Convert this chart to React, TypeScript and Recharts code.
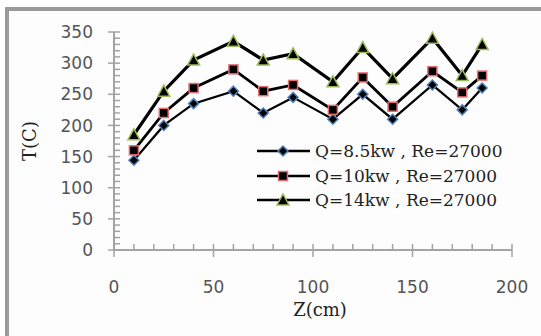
import React from "react";
import { LineChart, Line, XAxis, YAxis, Legend, Label } from "recharts";

// Z position (cm) of each measuring point
const zPositions = [10, 25, 40, 60, 75, 90, 110, 125, 140, 160, 175, 185];
// wall temperature T (C) per heat input
const temps85 = [144, 200, 235, 255, 220, 245, 210, 250, 210, 265, 225, 260];
const temps10 = [160, 220, 260, 290, 255, 265, 225, 277, 230, 287, 253, 280];
const temps14 = [185, 255, 305, 335, 305, 315, 270, 325, 275, 340, 280, 330];
const seriesNames = ["Q=8.5kw , Re=27000", "Q=10kw , Re=27000", "Q=14kw , Re=27000"];

const xTicks = [0, 10, 20, 30, 40, 50, 60, 70, 80, 90, 100, 110, 120, 130, 140, 150, 160, 170, 180, 190, 200];
const yTicks = [
  0, 10, 20, 30, 40, 50, 60, 70, 80, 90, 100, 110, 120, 130, 140, 150, 160, 170,
  180, 190, 200, 210, 220, 230, 240, 250, 260, 270, 280, 290, 300, 310, 320, 330, 340, 350
];

const data = zPositions.map((z, i) => ({
  z,
  q85: temps85[i],
  q10: temps10[i],
  q14: temps14[i]
}));

const axisGray = "#a3a3a3";
const tickFont = "'DejaVu Sans', Verdana, sans-serif";
const serifFont = "'DejaVu Serif', serif";

function Diamond({ cx, cy }: any) {
  if (cx == null || cy == null) return null;
  return (
    <path
      d={`M${cx} ${cy - 5}L${cx + 5} ${cy}L${cx} ${cy + 5}L${cx - 5} ${cy}Z`}
      fill="#000"
      stroke="#4f81bd"
      strokeWidth={1.5}
    />
  );
}

function Square({ cx, cy }: any) {
  if (cx == null || cy == null) return null;
  return <rect x={cx - 4.5} y={cy - 4.5} width={9} height={9} fill="#000" stroke="#e46c6c" strokeWidth={1.5} />;
}

function Triangle({ cx, cy }: any) {
  if (cx == null || cy == null) return null;
  return (
    <path
      d={`M${cx} ${cy - 6}L${cx + 6} ${cy + 5}L${cx - 6} ${cy + 5}Z`}
      fill="#000"
      stroke="#9bbb59"
      strokeWidth={1.5}
    />
  );
}

const markers = [Diamond, Square, Triangle];

function YTick({ x, y, payload }: any) {
  const major = payload.value % 50 === 0;
  return (
    <g>
      <line x1={major ? x - 6 : x} x2={x + 6} y1={y} y2={y} stroke={axisGray} strokeWidth={1.5} />
      {major && (
        <text x={x - 21} y={y} dy="0.36em" textAnchor="end" fill="#555" fontSize={17} fontFamily={tickFont}>
          {payload.value}
        </text>
      )}
    </g>
  );
}

function XTick({ x, y, payload }: any) {
  const major = payload.value % 50 === 0;
  return (
    <g>
      <line x1={x} x2={x} y1={y - 6} y2={major ? y + 7 : y} stroke={axisGray} strokeWidth={1.5} />
      {major && (
        <text x={x} y={y + 37} dy="0.36em" textAnchor="middle" fill="#555" fontSize={17} fontFamily={tickFont}>
          {payload.value}
        </text>
      )}
    </g>
  );
}

function LegendBox() {
  return (
    <div style={{ fontFamily: serifFont, fontSize: 17, color: "#222" }}>
      {seriesNames.map((name, i) => {
        const Marker = markers[i];
        return (
          <div key={name} style={{ display: "flex", alignItems: "center", height: 24.5, whiteSpace: "nowrap" }}>
            <svg width={58} height={16} style={{ display: "block" }}>
              <line x1={0} x2={53} y1={8} y2={8} stroke="#000" strokeWidth={2.5} />
              <Marker cx={26} cy={8} />
            </svg>
            <span>{name}</span>
          </div>
        );
      })}
    </div>
  );
}

export default function App() {
  return (
    <div style={{ position: "relative", width: 541, height: 336, overflow: "hidden", background: "#fff" }}>
      <style>{"body{margin:0}"}</style>
      <div
        style={{
          position: "absolute",
          left: 5,
          top: 7,
          width: 600,
          height: 400,
          borderTop: "4px solid #9a9a9a",
          borderLeft: "4px solid #9a9a9a",
          background: "#fdfdfd"
        }}
      />
      <div style={{ position: "absolute", left: 0, top: 0 }}>
        <LineChart width={541} height={336} data={data} margin={{ top: 32, right: 29, bottom: 0, left: 0 }}>
          <XAxis
            dataKey="z"
            type="number"
            domain={[0, 200]}
            ticks={xTicks}
            interval={0}
            height={86}
            tickSize={0}
            tickMargin={0}
            tickLine={false}
            tick={<XTick />}
            axisLine={{ stroke: axisGray, strokeWidth: 2 }}
          >
            <Label
              content={({ viewBox }: any) => (
                <text
                  x={viewBox.x + viewBox.width / 2 + 7}
                  y={viewBox.y + 60}
                  dy="0.36em"
                  textAnchor="middle"
                  fill="#222"
                  fontSize={18}
                  fontFamily={serifFont}
                >
                  Z(cm)
                </text>
              )}
            />
          </XAxis>
          <YAxis
            type="number"
            domain={[0, 350]}
            ticks={yTicks}
            interval={0}
            width={114}
            tickSize={0}
            tickMargin={0}
            tickLine={false}
            tick={<YTick />}
            axisLine={{ stroke: axisGray, strokeWidth: 2 }}
          >
            <Label
              content={({ viewBox }: any) => {
                const cx = viewBox.x + 30;
                const cy = viewBox.y + viewBox.height / 2;
                return (
                  <text
                    x={cx}
                    y={cy}
                    dy="0.36em"
                    textAnchor="middle"
                    transform={`rotate(-90 ${cx} ${cy})`}
                    fill="#222"
                    fontSize={18}
                    fontFamily={serifFont}
                  >
                    T(C)
                  </text>
                );
              }}
            />
          </YAxis>
          <Legend
            layout="vertical"
            align="center"
            verticalAlign="middle"
            content={<LegendBox />}
            wrapperStyle={{ position: "absolute", left: 257, top: 139, width: "auto" }}
          />
          <Line dataKey="q85" name={seriesNames[0]} stroke="#000" strokeWidth={2.2} dot={<Diamond />} isAnimationActive={false} />
          <Line dataKey="q10" name={seriesNames[1]} stroke="#000" strokeWidth={2.8} dot={<Square />} isAnimationActive={false} />
          <Line dataKey="q14" name={seriesNames[2]} stroke="#000" strokeWidth={3.2} dot={<Triangle />} isAnimationActive={false} />
        </LineChart>
      </div>
    </div>
  );
}
